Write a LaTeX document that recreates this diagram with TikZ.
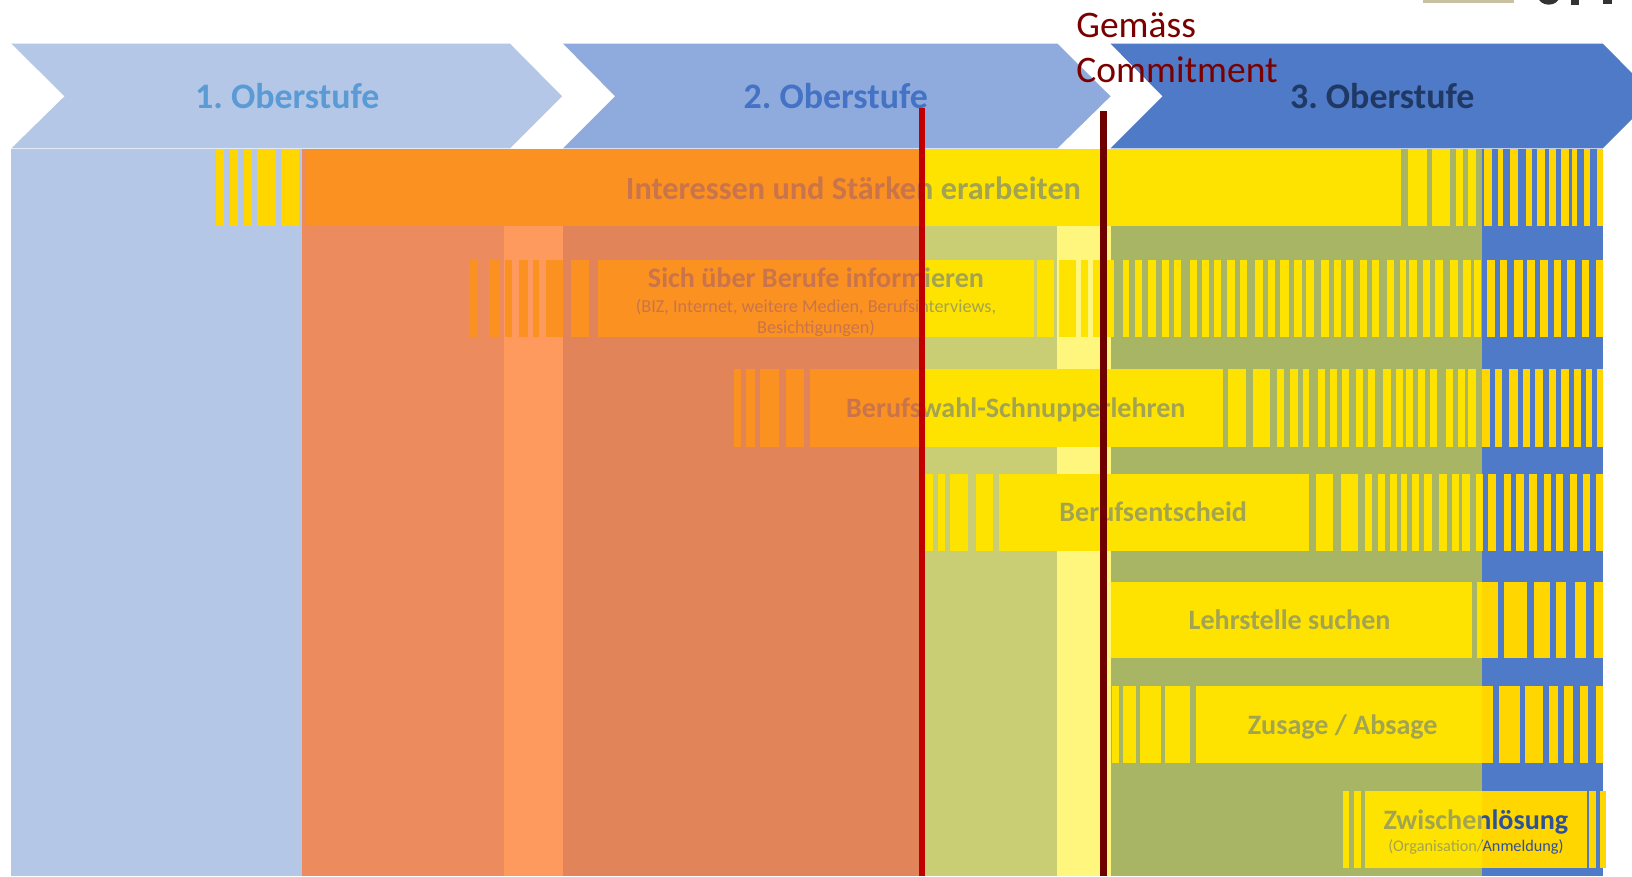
\documentclass[tikz,border=0pt]{standalone}
\usepackage{fontspec}
\setmainfont{Carlito}
\frenchspacing
\definecolor{cA}{HTML}{B4C7E7}
\definecolor{cB}{HTML}{8FAADC}
\definecolor{cC}{HTML}{4E7AC7}
\definecolor{tA}{HTML}{5B9BD5}
\definecolor{tB}{HTML}{4472C4}
\definecolor{tC}{HTML}{203864}
\definecolor{bgB}{HTML}{EC8C5E}
\definecolor{bgC}{HTML}{FF9A5F}
\definecolor{bgD}{HTML}{E1845A}
\definecolor{bgE}{HTML}{C9CD74}
\definecolor{bgF}{HTML}{FFF67E}
\definecolor{bgG}{HTML}{A7B565}
\definecolor{barO}{HTML}{FB9121}
\definecolor{barY}{HTML}{FFE300}
\definecolor{barG}{HTML}{FFD600}
\definecolor{txO}{HTML}{C9744A}
\definecolor{txY}{HTML}{A3A452}
\definecolor{txB}{HTML}{2F5198}
\definecolor{redA}{HTML}{C00000}
\definecolor{redB}{HTML}{6E0000}
\definecolor{commitc}{HTML}{7A0000}
\definecolor{khaki}{HTML}{C9C2A2}
\tikzset{
  lbl/.style={inner sep=0pt, anchor=base},
  chevt/.style={lbl, font=\fontsize{34.5}{40}\selectfont\bfseries},
  rowt/.style={lbl, font=\fontsize{27}{32}\selectfont\bfseries},
  rowtbig/.style={lbl, font=\fontsize{31}{36}\selectfont\bfseries},
  subt/.style={lbl, font=\fontsize{17.5}{20}\selectfont},
  subtsmall/.style={lbl, font=\fontsize{15.6}{19}\selectfont},
  committ/.style={inner sep=0pt, anchor=base west, text=commitc, font=\fontsize{36}{43}\selectfont},
  vline/.style={line width=#1}
}
\newcommand\barset[3]{\foreach \xa/\xb in {#3}{\fill (\xa,#1) rectangle (\xb,#2);}}
\newcommand\allbars{%
  \barset{143}{217}{208/215,221/229,234/242,247/265,270/287,294/1346,1353/1371,1376/1393,1399/1406,1410/1418,1426/1433,1439/1444,1451/1458,1466/1472,1477/1484,1488/1495,1500/1507,1510/1515,1522/1528,1534/1540}%
  \barset{250}{324}{451/459,470/479,485/492,499/507,512/518,525/541,549/566,575/993,996/1013,1017/1034,1039/1045,1050/1070,1079/1085,1090/1097,1103/1111,1116/1123,1128/1135,1143/1150,1155/1162,1166/1173,1179/1187,1191/1198,1206/1213,1218/1225,1230/1238,1243/1251,1255/1262,1269/1277,1282/1288,1293/1300,1307/1313,1318/1325,1333/1339,1345/1351,1354/1361,1367/1374,1379/1386,1393/1401,1406/1413,1416/1423,1429/1436,1441/1448,1455/1463,1467/1475,1480/1487,1493/1500,1506/1513,1520/1527,1533/1540}%
  \barset{355}{429}{705/712,717/725,730/748,755/772,778/1175,1180/1197,1204/1220,1227/1234,1239/1247,1252/1258,1266/1273,1278/1285,1289/1296,1303/1310,1314/1321,1329/1336,1341/1348,1351/1358,1362/1369,1374/1381,1389/1396,1401/1408,1410/1418,1424/1432,1436/1443,1450/1458,1463/1470,1475/1482,1488/1495,1500/1507,1512/1519,1524/1530,1534/1540}%
  \barset{455}{529}{889/896,901/908,913/930,938/954,960/1258,1264/1281,1288/1305,1311/1318,1324/1331,1335/1342,1346/1352,1357/1363,1368/1376,1383/1390,1395/1402,1405/1412,1418/1425,1430/1437,1445/1452,1457/1464,1469/1477,1483/1490,1495/1502,1508/1515,1521/1528,1533/1540}%
  \barset{559}{632}{1067/1414,1419/1439,1445/1467,1474/1489,1495/1505,1513/1524,1531/1540}%
  \barset{659}{733}{1068/1075,1079/1091,1095/1115,1119/1143,1149/1434,1440/1460,1465/1482,1488/1497,1503/1511,1518/1526,1533/1540}%
  \barset{760}{834}{1290/1296,1301/1308,1311/1525,1527/1533,1537/1543}%
}
\newcommand\zonetext[4]{%
  \begin{scope}\clip (0,0) rectangle (886,842); \node[#3,text=txO] (#1) at #2 {#4};\end{scope}%
  \begin{scope}\clip (886,0) rectangle (1424,842); \node[#3,text=txY] at #2 {#4};\end{scope}%
  \begin{scope}\clip (1424,0) rectangle (1568,842); \node[#3,text=txB] at #2 {#4};\end{scope}%
}
\begin{document}
\begin{tikzpicture}[x=1pt,y=-1pt]
\path[use as bounding box, fill=white] (0,0) rectangle (1568,842);
\clip (0,0) rectangle (1568,842);
% chevrons
\fill[cA] (11,42) -- (490,42) -- (540,92.5) -- (490,142.5) -- (11,142.5) -- (62,92.5) -- cycle;
\fill[cB] (541,42) -- (1016,42) -- (1067,92.5) -- (1016,142.5) -- (541,142.5) -- (591,92.5) -- cycle;
\fill[cC] (1067,42) -- (1540,42) -- (1590,92.5) -- (1540,142.5) -- (1067,142.5) -- (1117,92.5) -- cycle;
\node[chevt, text=tA] (ob1) at (276,104) {1. Oberstufe};
\node[chevt, text=tB] (ob2) at (803,104) {2. Oberstufe};
\node[chevt, text=tC] (ob3) at (1328,104) {3. Oberstufe};
% columns
\fill[cA]  (11,143.5)   rectangle (290,842);
\fill[bgB] (290,143.5)  rectangle (484,842);
\fill[bgC] (484,143.5)  rectangle (541,842);
\fill[bgD] (541,143.5)  rectangle (886,842);
\fill[bgE] (886,143.5)  rectangle (1016,842);
\fill[bgF] (1016,143.5) rectangle (1067,842);
\fill[bgG] (1067,143.5) rectangle (1424,842);
\fill[cC]  (1424,143.5) rectangle (1540,842);
% bars, coloured by zone
\begin{scope}[fill=barG]\clip (0,0) rectangle (290,842); \allbars\end{scope}
\begin{scope}[fill=barO]\clip (290,0) rectangle (886,842); \allbars\end{scope}
\begin{scope}[fill=barY]\clip (886,0) rectangle (1424,842); \allbars\end{scope}
\begin{scope}[fill=barG]\clip (1424,0) rectangle (1568,842); \allbars\end{scope}
% texts
\zonetext{r1}{(820,192)}{rowtbig}{Interessen und Stärken erarbeiten}
\zonetext{r2}{(784,276)}{rowt}{Sich über Berufe informieren}
\zonetext{r2a}{(784,300)}{subt}{(BIZ, Internet, weitere Medien, Berufsinterviews,}
\zonetext{r2b}{(784,320)}{subt}{Besichtigungen)}
\zonetext{r3}{(976,401)}{rowt}{Berufswahl-Schnupperlehren}
\zonetext{r4}{(1108,501)}{rowt}{Berufsentscheid}
\zonetext{r5}{(1239,605)}{rowt}{Lehrstelle suchen}
\zonetext{r6}{(1290,706)}{rowt}{Zusage / Absage}
\zonetext{r7}{(1418,797)}{rowt}{Zwischenlösung}
\zonetext{r7a}{(1418,818)}{subtsmall}{(Organisation/Anmeldung)}
% vertical lines
\coordinate (redtop) at (886,104);
\coordinate (redbot) at (886,842);
\coordinate (darktop) at (1060.5,107);
\coordinate (darkbot) at (1060.5,842);
\draw[redA, vline=6pt] (redtop) -- (redbot);
\draw[redB, vline=7pt] (darktop) -- (darkbot);
% commitment label
\node[committ] (gem) at (1034,36) {Gemäss};
\node[committ] (com) at (1034,79) {Commitment};
% cut-off marks at top right
\fill[khaki] (1367,0) rectangle (1455,2.5);
\fill[black!80] (1488,-3) ellipse [x radius=10, y radius=7.5];
\fill[black!80] (1509,0) rectangle (1517,5);
\fill[black!80] (1540,0) rectangle (1549,4);
\end{tikzpicture}
\end{document}
